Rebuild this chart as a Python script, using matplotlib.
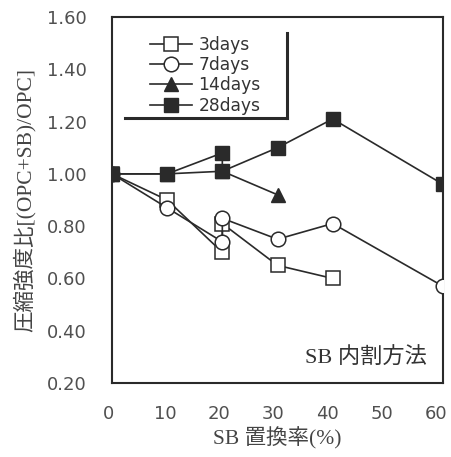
import matplotlib
matplotlib.use("Agg")
import matplotlib.pyplot as plt
from matplotlib.lines import Line2D
from matplotlib.transforms import ScaledTranslation

plt.rcParams['font.family'] = ['DejaVu Sans', 'Noto Sans CJK JP']

# Data
x_3 = [0, 10, 20, 20, 30, 40]
y_3 = [1.00, 0.90, 0.70, 0.81, 0.65, 0.60]
x_7 = [0, 10, 20, 20, 30, 40, 60]
y_7 = [1.00, 0.87, 0.74, 0.83, 0.75, 0.81, 0.57]
x_14 = [0, 10, 20, 30]
y_14 = [1.00, 1.00, 1.01, 0.92]
x_28 = [0, 10, 20, 20, 30, 40, 60]
y_28 = [1.00, 1.00, 1.08, 1.01, 1.10, 1.21, 0.96]
series_labels = ['3days', '7days', '14days', '28days']
xticks = [0, 10, 20, 30, 40, 50, 60]
yticks = [0.20, 0.40, 0.60, 0.80, 1.00, 1.20, 1.40, 1.60]

fig = plt.figure(figsize=(4.51, 4.57), dpi=100)
ax = fig.add_axes([0.2483, 0.1619, 0.7340, 0.8009])

c = '#2a2a2a'
lw = 1.2
ax.plot(x_3, y_3, '-', color=c, lw=lw, marker='s', ms=10, mfc='white', mec=c, mew=1.1, zorder=3)
ax.plot(x_7, y_7, '-', color=c, lw=lw, marker='o', ms=10.5, mfc='white', mec=c, mew=1.1, zorder=3)
ax.plot(x_14, y_14, '-', color=c, lw=lw, marker='^', ms=10, mfc=c, mec=c, zorder=4)
ax.plot(x_28, y_28, '-', color=c, lw=lw, marker='s', ms=10, mfc=c, mec=c, zorder=5)

ax.set_xlim(0, 60)
ax.set_ylim(0.20, 1.60)
ax.set_xticks(xticks)
ax.set_xticklabels([str(v) for v in xticks])
ax.set_yticks(yticks)
ax.set_yticklabels([f'{v:.2f}' for v in yticks])
ax.tick_params(length=0, labelsize=13, labelcolor='#505050')
ax.tick_params(axis='y', pad=18)
ax.tick_params(axis='x', pad=16)
# the printed x labels drift slightly left of the grid positions
shifts = [-3, -2, -3, -4, -5, -6, -7]
for lab, s in zip(ax.get_xticklabels(), shifts):
    lab.set_transform(lab.get_transform() + ScaledTranslation(s / 100, 0, fig.dpi_scale_trans))
for s in ax.spines.values():
    s.set_linewidth(1.5)
    s.set_color(c)

ax.set_xlabel('SB 置換率(%)', fontsize=15.5, color='#444444', labelpad=3,
              family=['Liberation Serif', 'Noto Sans CJK JP'])
ax.set_ylabel('圧縮強度比[(OPC+SB)/OPC]', fontsize=15.5, color='#444444', labelpad=8,
              family=['Liberation Serif', 'Noto Sans CJK JP'])

ax.text(0.952, 0.068, 'SB 内割方法', transform=ax.transAxes, ha='right', va='center',
        fontsize=16, color='#333333', family=['Liberation Serif', 'Noto Sans CJK JP'])

# Legend
handles = [
    Line2D([], [], color=c, lw=lw, marker='s', ms=10, mfc='white', mec=c, mew=1.1),
    Line2D([], [], color=c, lw=lw, marker='o', ms=10.5, mfc='white', mec=c, mew=1.1),
    Line2D([], [], color=c, lw=lw, marker='^', ms=10, mfc=c, mec=c),
    Line2D([], [], color=c, lw=lw, marker='s', ms=10, mfc=c, mec=c),
]
leg = ax.legend(handles, series_labels, loc='upper left', bbox_to_anchor=(0.114, 0.948),
                frameon=False, fontsize=12.3, handlelength=2.5, handletextpad=0.35,
                labelspacing=0.13, borderpad=0.0, borderaxespad=0.0)
for t in leg.get_texts():
    t.set_color('#333333')

# legend shadow lines (right and bottom edges)
ax.plot([0.529, 0.529], [0.724, 0.956], transform=ax.transAxes, color=c, lw=2.2, clip_on=False)
ax.plot([0.039, 0.529], [0.724, 0.724], transform=ax.transAxes, color=c, lw=2.2, clip_on=False)

fig.savefig('out.png', dpi=100)
